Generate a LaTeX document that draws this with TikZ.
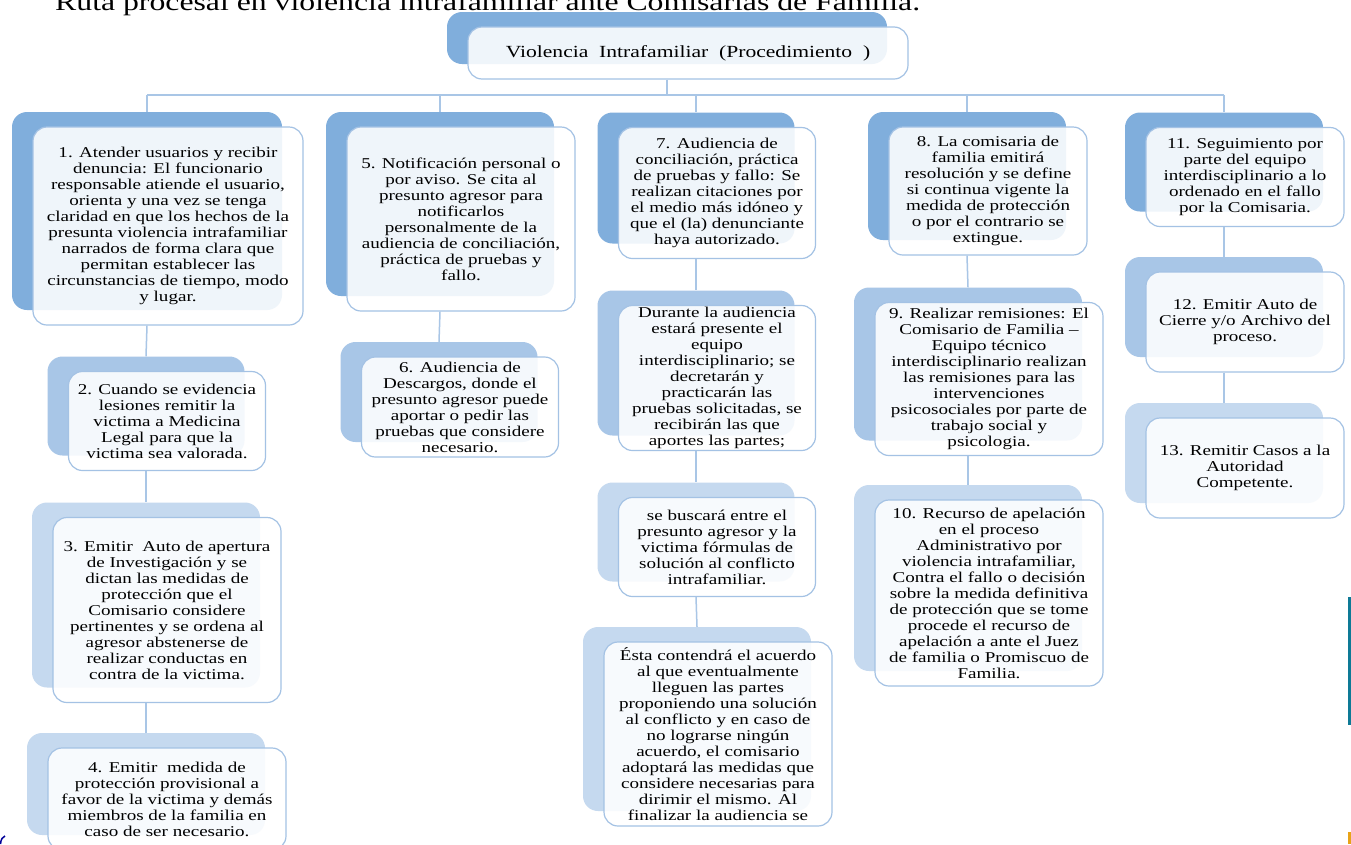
\documentclass[tikz,border=0pt]{standalone}
\usepackage{fontspec}
\setmainfont{Liberation Serif}[FakeStretch=1.27]
\definecolor{lvA}{HTML}{80AEDC}
\definecolor{lvB}{HTML}{A8C6E7}
\definecolor{lvC}{HTML}{C5D9EF}
\definecolor{edgeblue}{HTML}{A4C2E4}
\definecolor{connblue}{HTML}{A9C6E6}
\definecolor{scanteal}{HTML}{0E7A96}
\definecolor{scanorange}{HTML}{E8A317}
\tikzset{
  backbox/.style={draw=none, rounded corners=15pt, inner sep=0pt},
  frontbox/.style={draw=edgeblue, line width=1.2pt, fill=white, fill opacity=0.88, text opacity=1,
    rounded corners=14pt, align=center, inner sep=0pt, text=black, font=\fontsize{15}{16}\selectfont},
  link/.style={draw=connblue, line width=1.5pt},
}
\newcommand\flowbox[7]{%
  \node[backbox, fill=#6, minimum width=#4pt, minimum height=#5pt] (#1b) at (#2-21,#3-15) {};
  \node[frontbox, minimum width=#4pt, minimum height=#5pt] (#1) at (#2,#3) {#7};
}
\begin{document}
\begin{tikzpicture}[x=1pt,y=-1pt]
\useasboundingbox (0,0) rectangle (1351,844);
\clip (0,0) rectangle (1351,844);
\fill[white] (0,0) rectangle (1351,844);

\node[anchor=base west, inner sep=0pt, font=\fontsize{25}{30}\selectfont] (head) at (55,10)
  {Ruta procesal en violencia intrafamiliar ante Comisarias de Familia.};

\flowbox{t}{688}{53}{440}{52}{lvA}{\fontsize{17}{20}\selectfont Violencia~ Intrafamiliar~ (Procedimiento~ )}

% column 1
\flowbox{n1}{168}{226}{270}{198}{lvA}{1. Atender usuarios y recibir\\ denuncia: El funcionario\\ responsable atiende el usuario,\\ orienta y una vez se tenga\\ claridad en que los hechos de la\\ presunta violencia intrafamiliar\\ narrados de forma clara que\\ permitan establecer las\\ circunstancias de tiempo, modo\\ y lugar.}
\flowbox{n2}{167}{421}{197}{99}{lvB}{2. Cuando se evidencia\\ lesiones remitir la\\ victima a Medicina\\ Legal para que la\\ victima sea valorada.}
\flowbox{n3}{167}{610}{228}{185}{lvC}{3. Emitir~ Auto de apertura\\ de Investigación y se\\ dictan las medidas de\\ protección que el\\ Comisario considere\\ pertinentes y se ordena al\\ agresor abstenerse de\\ realizar conductas en\\ contra de la victima.}
\flowbox{n4}{167}{799}{238}{102}{lvC}{4. Emitir~ medida de\\ protección provisional a\\ favor de la victima y demás\\ miembros de la familia en\\ caso de ser necesario.}

% column 2
\flowbox{n5}{461}{219}{228}{184}{lvA}{5. Notificación personal o\\ por aviso. Se cita al\\ presunto agresor para\\ notificarlos\\ personalmente de la\\ audiencia de conciliación,\\ práctica de pruebas y\\ fallo.}
\flowbox{n6}{460}{407}{197}{100}{lvB}{6. Audiencia de\\ Descargos, donde el\\ presunto agresor puede\\ aportar o pedir las\\ pruebas que considere\\ necesario.}

% column 3
\flowbox{n7}{717}{193}{197}{131}{lvA}{7. Audiencia de\\ conciliación, práctica\\ de pruebas y fallo: Se\\ realizan citaciones por\\ el medio más idóneo y\\ que el (la) denunciante\\ haya autorizado.}
\flowbox{nA}{717}{378}{197}{145}{lvB}{Durante la audiencia\\ estará presente el\\ equipo\\ interdisciplinario; se\\ decretarán y\\ practicarán las\\ pruebas solicitadas, se\\ recibirán las que\\ aportes las partes;}
\flowbox{nB}{717}{547}{197}{99}{lvC}{se buscará entre el\\ presunto agresor y la\\ victima fórmulas de\\ solución al conflicto\\ intrafamiliar.}
\flowbox{nC}{718}{734}{228}{184}{lvC}{Ésta contendrá el acuerdo\\ al que eventualmente\\ lleguen las partes\\ proponiendo una solución\\ al conflicto y en caso de\\ no lograrse ningún\\ acuerdo, el comisario\\ adoptará las medidas que\\ considere necesarias para\\ dirimir el mismo. Al\\ finalizar la audiencia se}

% column 4
\flowbox{n8}{988}{191}{198}{128}{lvA}{8. La comisaria de\\ familia emitirá\\ resolución y se define\\ si continua vigente la\\ medida de protección\\ o por el contrario se\\ extingue.}
\flowbox{n9}{989}{379}{228}{153}{lvB}{9. Realizar remisiones: El\\ Comisario de Familia --\\ Equipo técnico\\ interdisciplinario realizan\\ las remisiones para las\\ intervenciones\\ psicosociales por parte de\\ trabajo social y\\ psicologia.}
\flowbox{n10}{989}{593}{228}{186}{lvC}{10. Recurso de apelación\\ en el proceso\\ Administrativo por\\ violencia intrafamiliar,\\ Contra el fallo o decisión\\ sobre la medida definitiva\\ de protección que se tome\\ procede el recurso de\\ apelación a ante el Juez\\ de familia o Promiscuo de\\ Familia.}

% column 5
\flowbox{n11}{1245}{177}{198}{99}{lvA}{11. Seguimiento por\\ parte del equipo\\ interdisciplinario a lo\\ ordenado en el fallo\\ por la Comisaria.}
\flowbox{n12}{1245}{322}{198}{100}{lvB}{12. Emitir Auto de\\ Cierre y/o Archivo del\\ proceso.}
\flowbox{n13}{1245}{468}{198}{100}{lvC}{13. Remitir Casos a la\\ Autoridad\\ Competente.}

% connectors
\coordinate (hub) at (667,95);
\draw[link] (tb.south |- t.south) -- (hub);
\draw[link] (n1b.north |- hub) -- (n11b.north |- hub);
\foreach \c in {n1,n5,n7,n8,n11} { \draw[link] (\c b.north |- hub) -- (\c b.north); }
\draw[link] (n1b.south |- n1.south) -- (n2b.north);
\draw[link] (n2b.south |- n2.south) -- (n3b.north);
\draw[link] (n3b.south |- n3.south) -- (n4b.north);
\draw[link] (n5b.south |- n5.south) -- (n6b.north);
\draw[link] (n7b.south |- n7.south) -- (nAb.north);
\draw[link] (nAb.south |- nA.south) -- (nBb.north);
\draw[link] (nBb.south |- nB.south) -- (nCb.north);
\draw[link] (n8b.south |- n8.south) -- (n9b.north);
\draw[link] (n9b.south |- n9.south) -- (n10b.north);
\draw[link] (n11b.south |- n11.south) -- (n12b.north);
\draw[link] (n12b.south |- n12.south) -- (n13b.north);

% scan marks at the edges
\draw[scanteal, line width=2.5pt] (1349.5,597) -- (1349.5,725);
\draw[scanorange, line width=2.5pt] (1349.5,832) -- (1349.5,844);
\draw[blue!60!black, line width=1.5pt] (0.5,844) .. controls (1,839) and (2.5,837) .. (5,836);
\end{tikzpicture}
\end{document}
